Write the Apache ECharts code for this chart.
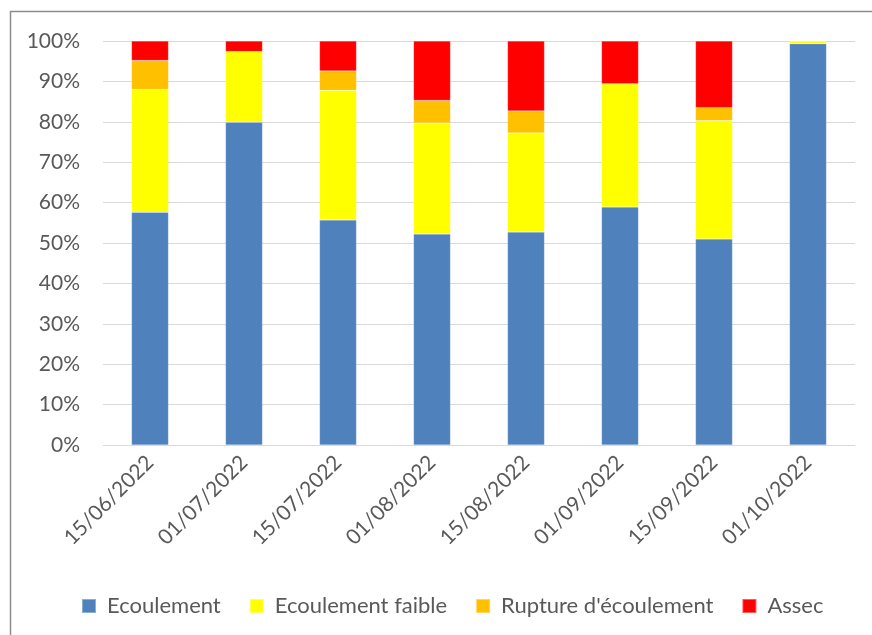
<!DOCTYPE html>
<html>
<head>
<meta charset="utf-8">
<script src="https://cdn.jsdelivr.net/npm/echarts@6/dist/echarts.min.js"></script>
<style>
  html, body { margin: 0; padding: 0; background: #fff; }
  #chart { width: 872px; height: 635px; }
</style>
</head>
<body>
<div id="chart"></div>
<script>
const dates = ['15/06/2022', '01/07/2022', '15/07/2022', '01/08/2022', '15/08/2022', '01/09/2022', '15/09/2022', '01/10/2022']
const ecoulement = [57.6, 79.9, 55.7, 52.2, 52.7, 58.9, 51.0, 99.3]
const ecoulementFaible = [30.4, 17.5, 32.1, 27.5, 24.5, 30.5, 29.3, 0.7]
const rupture = [7.2, 0, 4.8, 5.6, 5.5, 0, 3.2, 0]
const assec = [4.8, 2.6, 7.4, 14.7, 17.3, 10.6, 16.5, 0]

const font = 'Lato, "Liberation Sans", sans-serif'
const textColor = '#595959'

function bar(name, data, color) {
  return {
    name, type: 'bar', stack: 'total', data,
    barWidth: 37,
    itemStyle: { color, borderColor: 'rgba(255,255,255,0.35)', borderWidth: 0.5 }
  }
}

const chart = echarts.init(document.getElementById('chart'))
chart.setOption({
  animation: false,
  backgroundColor: '#fff',
  textStyle: { fontFamily: font },
  graphic: [{
    type: 'rect',
    shape: { x: 10.5, y: 11.5, width: 900, height: 700 },
    style: { fill: 'none', stroke: '#8c8c8c', lineWidth: 1.5 }
  }],
  grid: { left: 103, right: 17, top: 41, bottom: 190 },
  legend: {
    top: 590,
    left: 76,
    itemWidth: 14,
    itemHeight: 14,
    itemGap: 28,
    icon: 'rect',
    textStyle: { fontSize: 22, color: textColor, fontFamily: font, padding: [0, 0, 0, 6] },
    data: ['Ecoulement', 'Ecoulement faible', "Rupture d'écoulement", 'Assec']
  },
  xAxis: {
    type: 'category',
    data: dates,
    axisLine: { lineStyle: { color: '#d9d9d9', width: 1 } },
    axisTick: { show: false },
    axisLabel: { rotate: 45, margin: 14, fontSize: 21, color: textColor, fontFamily: font }
  },
  yAxis: {
    type: 'value',
    min: 0, max: 100, interval: 10,
    axisLine: { show: false },
    axisTick: { show: false },
    axisLabel: { formatter: '{value}%', margin: 23, fontSize: 21, color: textColor, fontFamily: font },
    splitLine: { lineStyle: { color: '#d9d9d9', width: 1 } }
  },
  series: [
    bar('Ecoulement', ecoulement, '#4f81bd'),
    bar('Ecoulement faible', ecoulementFaible, '#ffff00'),
    bar("Rupture d'écoulement", rupture, '#ffc000'),
    bar('Assec', assec, '#ff0000')
  ]
})
</script>
</body>
</html>
